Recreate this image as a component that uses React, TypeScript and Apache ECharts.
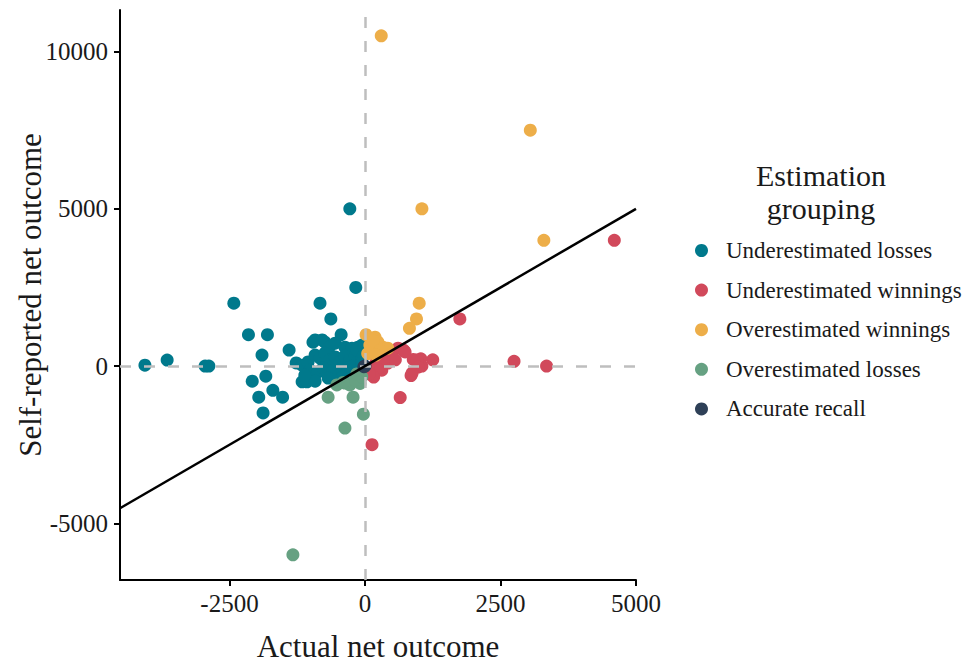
import React, { useEffect, useRef } from "react";
import * as echarts from "echarts";

const FONT = "'Liberation Serif', 'DejaVu Serif', serif";

const groupNames = [
  "Underestimated losses",
  "Underestimated winnings",
  "Overestimated winnings",
  "Overestimated losses",
  "Accurate recall",
];
const groupColors = ["#00798c", "#d1495b", "#edae49", "#66a182", "#2e4057"];

const underestimatedLosses: number[][] = [
  [-4060, 30], [-3650, 190], [-2950, 0], [-2880, 0], [-2420, 2000], [-2150, 1000],
  [-1800, 1000], [-1900, 350], [-2080, -480], [-1830, -320], [-1960, -990],
  [-1700, -770], [-1520, -990], [-1880, -1490], [-1400, 510], [-1270, 100],
  [-1160, -500], [-1070, -500], [-830, 2000], [-630, 1500], [-440, 1000],
  [-280, 5000], [-170, 2500],
  [-960, 760], [-920, 830], [-790, 830], [-740, 760], [-660, 600], [-550, 730],
  [-370, 600], [-240, 570], [-130, 600], [-55, 670], [-90, 450], [-1160, 30],
  [-1050, 130], [-920, 350], [-830, 250], [-740, 410], [-650, 190], [-550, 290],
  [-460, 130], [-370, 320], [-280, 190], [-185, 320], [-130, 130], [-55, 250],
  [-1015, -130], [-870, -190], [-775, -60], [-680, -290], [-590, -130],
  [-500, -320], [-405, -190], [-315, -60], [-220, 0], [-920, -480], [-680, -380],
  [-420, -350], [-1110, -290], [-150, 510], [-20, 570], [-60, 100], [-30, 350],
];
const underestimatedWinnings: number[][] = [
  [4600, 4000], [1750, 1500], [2750, 150], [3350, 0], [1250, 200], [1030, 230],
  [890, 210], [1050, 0], [850, -300], [650, -1000], [130, -2500], [710, 510],
  [610, 570], [740, 450], [420, 400], [960, 190], [130, -130], [310, -130],
  [420, 95], [200, 100], [250, -50], [500, 300], [560, 200], [60, -60], [350, 250],
  [980, -30], [870, -220], [160, -350], [80, -250],
];
const overestimatedWinnings: number[][] = [
  [300, 10500], [3050, 7500], [1050, 5000], [3300, 4000], [1000, 2000],
  [950, 1500], [820, 1200], [20, 1000], [185, 920], [240, 760], [90, 670],
  [330, 600], [420, 570], [150, 800], [280, 500], [50, 400], [200, 350],
];
const overestimatedLosses: number[][] = [
  [-680, -990], [-220, -990], [-30, -1530], [-370, -1970], [-1330, -6000],
  [-520, -600], [-280, -600], [-90, -550], [-370, -540], [-185, -445],
  [-60, -340], [-400, -520], [-150, -250],
];
const accurateRecall: number[][] = [[0, 0], [-20, -20]];

const xTicks = [-2500, 0, 2500, 5000];
const yTicks = [-5000, 0, 5000, 10000];
const xRange = [-4520, 5000];
const yRange = [-6800, 11320];
const identityLine: number[][] = [[-4520, -4520], [5000, 5000]];
const legendTitle = ["Estimation", "grouping"];

const groupData = [
  underestimatedLosses,
  underestimatedWinnings,
  overestimatedWinnings,
  overestimatedLosses,
  accurateRecall,
];

export default function App() {
  const ref = useRef<HTMLDivElement>(null);
  useEffect(() => {
    if (!ref.current) return;
    const chart = echarts.init(ref.current, undefined, { renderer: "svg" });
    const axisCommon = {
      type: "value" as const,
      splitLine: { show: false },
      axisLine: { show: true, onZero: false, lineStyle: { color: "#000", width: 2 } },
      nameTextStyle: { fontFamily: FONT, fontSize: 31, color: "#1a1a1a" },
      nameMoveOverlap: false,
    };
    const scatterSeries = groupNames.map((name, i) => ({
      name,
      type: "scatter" as const,
      data: groupData[i],
      symbolSize: 13,
      itemStyle: { color: groupColors[i], opacity: 1 },
      z: 3,
    }));
    chart.setOption({
      animation: false,
      grid: {
        left: 120,
        right: 337,
        top: 10,
        bottom: 83,
        containLabel: false,
        outerBoundsMode: "none",
      },
      xAxis: {
        ...axisCommon,
        min: xRange[0],
        max: xRange[1],
        name: "Actual net outcome",
        nameLocation: "middle",
        nameGap: 51,
        axisTick: { show: true, customValues: xTicks, length: 6, lineStyle: { color: "#000", width: 2 } },
        axisLabel: {
          customValues: xTicks,
          formatter: (v: number) => String(v),
          fontFamily: FONT,
          fontSize: 25,
          color: "#1a1a1a",
          margin: 11,
        },
      },
      yAxis: {
        ...axisCommon,
        min: yRange[0],
        max: yRange[1],
        name: "Self-reported net outcome",
        nameLocation: "middle",
        nameGap: 74,
        axisTick: { show: true, customValues: yTicks, length: 6, lineStyle: { color: "#000", width: 2 } },
        axisLabel: {
          customValues: yTicks,
          formatter: (v: number) => String(v),
          fontFamily: FONT,
          fontSize: 25,
          color: "#1a1a1a",
          margin: 12,
        },
      },
      legend: {
        orient: "vertical",
        left: 695,
        top: 239,
        padding: 0,
        data: groupNames,
        icon: "circle",
        itemWidth: 13,
        itemHeight: 13,
        itemGap: 16.6,
        selectedMode: false,
        textStyle: { fontFamily: FONT, fontSize: 23, color: "#1a1a1a", lineHeight: 22, padding: [0, 0, 0, 13] },
      },
      graphic: legendTitle.map((t, i) => ({
        type: "text",
        x: 821,
        y: 175 + i * 33,
        style: {
          text: t,
          fontFamily: FONT,
          fontSize: 30,
          fill: "#1a1a1a",
          align: "center",
          verticalAlign: "middle",
        },
      })),
      series: [
        {
          type: "line",
          data: [],
          silent: true,
          markLine: {
            silent: true,
            symbol: "none",
            label: { show: false },
            lineStyle: { color: "#bebebe", type: [11, 13], width: 2.5 },
            data: [{ xAxis: 0 }, { yAxis: 0 }],
          },
          z: 1,
        },
        ...scatterSeries,
        {
          type: "line",
          data: identityLine,
          symbol: "none",
          silent: true,
          lineStyle: { color: "#000", width: 2.5 },
          z: 5,
        },
      ],
    });
    return () => chart.dispose();
  }, []);
  return (
    <div
      ref={ref}
      style={{ position: "fixed", left: 0, top: 0, width: 973, height: 663, background: "#fff" }}
    />
  );
}
